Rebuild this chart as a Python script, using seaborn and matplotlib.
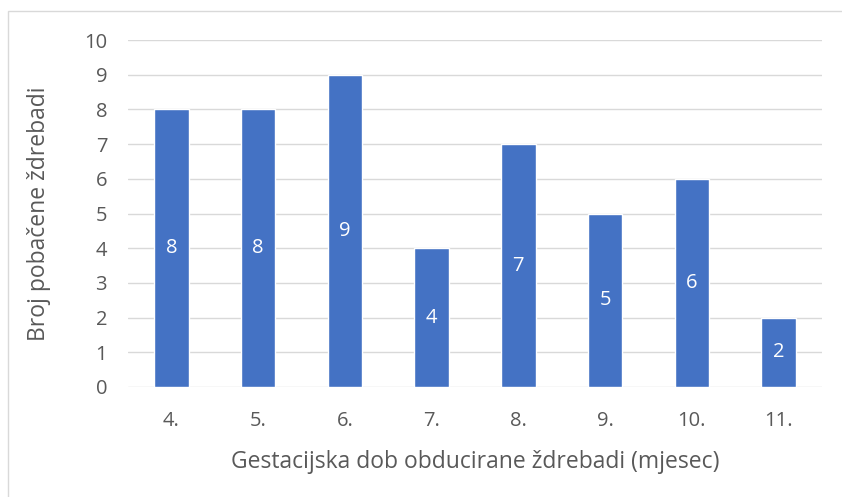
import pandas as pd
import matplotlib.pyplot as plt
import seaborn as sns
from matplotlib.patches import Rectangle

# Data
months = ["4.", "5.", "6.", "7.", "8.", "9.", "10.", "11."]
counts = [8, 8, 9, 4, 7, 5, 6, 2]

df = pd.DataFrame({"mjesec": months, "broj": counts})

sns.set_theme(style="white")
plt.rcParams["font.family"] = ["Open Sans", "DejaVu Sans"]

text_col = "#595959"
bar_col = "#4472C4"

fig = plt.figure(figsize=(8.42, 4.97), dpi=100)
ax = fig.add_axes([128 / 842, 1 - 387 / 497, (822 - 128) / 842, (387 - 40) / 497])

sns.barplot(data=df, x="mjesec", y="broj", color=bar_col, width=0.4,
            saturation=1, ax=ax)

ax.set_ylim(0, 10)
ax.set_yticks(range(0, 11))
ax.yaxis.grid(True, color="#D9D9D9", linewidth=1)
ax.set_axisbelow(True)
for s in ax.spines.values():
    s.set_visible(False)
ax.tick_params(axis="both", length=0, labelsize=14.5, labelcolor=text_col)
ax.tick_params(axis="x", pad=17)
ax.tick_params(axis="y", pad=15)

ax.set_xlabel("Gestacijska dob obducirane ždrebadi (mjesec)", fontsize=16.5,
              color=text_col, labelpad=14)
ax.set_ylabel("Broj pobačene ždrebadi", fontsize=16.5, color=text_col, labelpad=24)

for c in ax.containers:
    ax.bar_label(c, label_type="center", color="white", fontsize=14.5)

# chart frame like the Excel export
fig.patches.append(Rectangle((8 / 842, -0.1), 1.0, 1 - 11 / 497 + 0.1,
                             transform=fig.transFigure, fill=False,
                             edgecolor="#D9D9D9", linewidth=1))

fig.savefig("out.png", dpi=100)
